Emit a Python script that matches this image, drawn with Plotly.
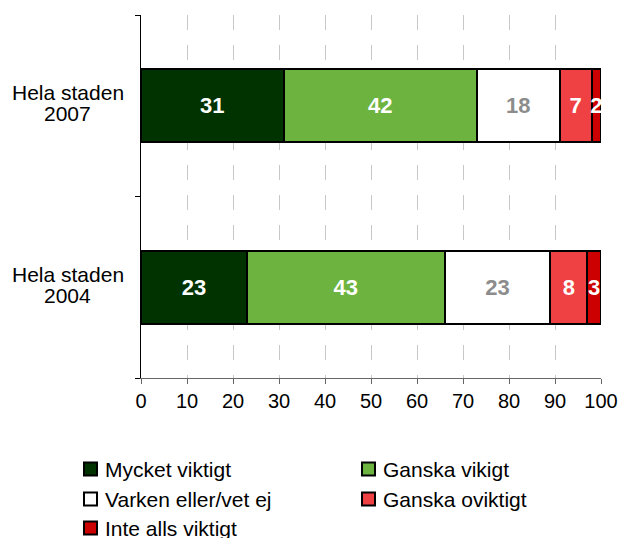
import plotly.graph_objects as go

# Survey responses, share of respondents (%)
groups = ["Hela staden 2004", "Hela staden 2007"]
group_lines = [["Hela staden", "2004"], ["Hela staden", "2007"]]
series_names = ["Mycket viktigt", "Ganska vikigt", "Varken eller/vet ej",
                "Ganska oviktigt", "Inte alls viktigt"]
mycket = [23, 31]
ganska = [43, 42]
varken = [23, 18]
oviktigt = [8, 7]
inte_alls = [3, 2]
x_ticks = [0, 10, 20, 30, 40, 50, 60, 70, 80, 90, 100]

values = [mycket, ganska, varken, oviktigt, inte_alls]
colors = ["#003300", "#6db33f", "#ffffff", "#ef4044", "#cc0000"]
label_colors = ["#ffffff", "#ffffff", "#8c8c8c", "#ffffff", "#ffffff"]

FONT = "Liberation Sans, Arial, sans-serif"
W, H = 621, 538
L, R, T, B = 141, 20, 15, 160
PW, PH = W - L - R, H - T - B


def px_x(px):
    return (px - L) / PW


def px_y(py):
    return (H - B - py) / PH


fig = go.Figure()
for name, vals, col, tcol in zip(series_names, values, colors, label_colors):
    fig.add_trace(go.Bar(
        y=groups, x=vals, name=name, orientation="h",
        marker=dict(color=col, line=dict(color="#000000", width=2)),
        width=0.4,
        text=vals, texttemplate="%{x}", textposition="inside",
        insidetextanchor="middle", textangle=0, constraintext="none",
        textfont=dict(family=FONT, size=22, color=tcol, weight="bold"),
        hoverinfo="skip", showlegend=False,
    ))

annotations = []
shapes = []

# Category labels: two centred lines beside each bar
for g, (l1, l2) in zip(groups, group_lines):
    for txt, shift in ((l1, 13), (l2, -8)):
        annotations.append(dict(
            x=px_x(67.5), xref="paper", y=g, yref="y", yshift=shift,
            text=txt, showarrow=False, xanchor="center", yanchor="middle",
            font=dict(family=FONT, size=21, color="#000000"),
        ))

# Legend in two columns below the chart
legend_slots = [(84, 469), (362, 469), (84, 499), (362, 499), (84, 528)]
for name, col, (sx, sy) in zip(series_names, colors, legend_slots):
    shapes.append(dict(
        type="rect", xref="paper", yref="paper",
        x0=px_x(sx), x1=px_x(sx + 13), y0=px_y(sy - 6.5), y1=px_y(sy + 6.5),
        fillcolor=col, line=dict(color="#000000", width=2),
    ))
    annotations.append(dict(
        x=px_x(sx + 19), xref="paper", y=px_y(sy), yref="paper",
        text=name, showarrow=False, xanchor="left", yanchor="middle",
        font=dict(family=FONT, size=21, color="#000000"),
    ))

fig.update_layout(
    barmode="stack",
    width=W, height=H,
    margin=dict(l=L, r=R, t=T, b=B),
    paper_bgcolor="#ffffff", plot_bgcolor="#ffffff",
    font=dict(family=FONT, size=20, color="#000000"),
    showlegend=False,
    annotations=annotations,
    shapes=shapes,
    xaxis=dict(
        range=[0, 100], tickvals=x_ticks, ticktext=[str(v) for v in x_ticks],
        showgrid=True, gridcolor="#c8c8c8", griddash="15px,15px", gridwidth=1,
        zeroline=False, showline=True, linecolor="#666666", linewidth=1,
        ticks="outside", ticklen=5, tickcolor="#666666",
        tickfont=dict(family=FONT, size=20),
        fixedrange=True, automargin=False,
    ),
    yaxis=dict(
        type="category", categoryorder="array", categoryarray=groups,
        range=[-0.5, 1.5], tickson="boundaries",
        showline=True, linecolor="#000000", linewidth=1,
        ticks="outside", ticklen=5, tickcolor="#000000",
        showticklabels=False,
        showgrid=False, zeroline=False,
        fixedrange=True, automargin=False,
    ),
)

fig.write_html("out.html")
